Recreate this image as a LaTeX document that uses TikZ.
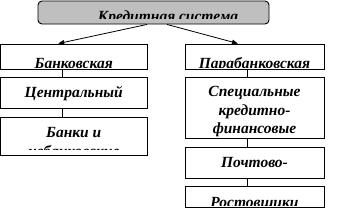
\documentclass[tikz,border=0pt]{standalone}
\usepackage{fontspec}
\setmainfont{Liberation Serif}
\newfontfamily\lblfont{Liberation Serif}[UprightFont=* Bold Italic]
\usetikzlibrary{arrows.meta, positioning}
\tikzset{
  box/.style={draw, line width=0.9pt, inner sep=0pt, fill=white},
  head/.style={box, fill=black!25, rounded corners=4pt},
  lbl/.style={font=\fontsize{15.5}{18.5}\lblfont, align=center, inner sep=0pt},
  txt/.style n args={3}{path picture={
      \clip ([yshift=#2]path picture bounding box.south west) rectangle (path picture bounding box.north east);
      \node[lbl, anchor=base] at ([yshift=#3]path picture bounding box.north) {#1};}},
  arr/.style={-{Triangle[length=6pt, width=4.5pt]}, line width=0.8pt},
  link/.style={line width=0.8pt},
}
\begin{document}
\begin{tikzpicture}[x=1pt, y=-1pt]
    \useasboundingbox (0,0) rectangle (339,209);
    % top
    \node[head, minimum width=231pt, minimum height=23pt,
      path picture={\clip ([yshift=5.5pt]path picture bounding box.south west) rectangle (path picture bounding box.north east);
        \node[lbl, anchor=base] at ([xshift=14.5pt, yshift=-20pt]path picture bounding box.north) {Кредитная система};}]
      (ks) at (153.5,12.5) {};
    % left column
    \node[box, minimum width=146.5pt, minimum height=25pt, txt={Банковская}{2pt}{-24pt}] (bank) at (73.75,56.5) {};
    \node[box, minimum width=146.5pt, minimum height=31pt, below=8pt of bank, txt={Центральный}{5pt}{-20pt}] (cb) {};
    \node[box, minimum width=146.5pt, minimum height=38pt, below=8pt of cb, txt={Банки и\\небанковские}{6pt}{-38.5pt}] (banki) {};
    % right column
    \node[box, minimum width=139pt, minimum height=25pt, txt={Парабанковская}{2pt}{-24pt}] (para) at (254.5,56.5) {};
    \node[box, minimum width=139pt, minimum height=61pt, below=8pt of para, txt={Специальные\\кредитно-\\финансовые}{2pt}{-56pt}] (spec) {};
    \node[box, minimum width=139pt, minimum height=31pt, below=8pt of spec, txt={Почтово-}{5pt}{-20pt}] (post) {};
    \node[box, minimum width=139pt, minimum height=21pt, below=7pt of post, txt={Ростовщики}{2pt}{-20.5pt}] (rost) {};
    % connectors
    \draw[arr] ([xshift=-6.5pt]ks.south) -- ([xshift=-15.5pt]bank.north);
    \draw[arr] ([xshift=13.5pt]ks.south) -- ([xshift=-16.5pt]para.north);
    \draw[link] ([xshift=-11.75pt]bank.south) -- ([xshift=-11.75pt]cb.north);
    \draw[link] ([xshift=-11.75pt]cb.south) -- ([xshift=-11.75pt]banki.north);
    \draw[link] ([xshift=-7.5pt]para.south) -- ([xshift=-7.5pt]spec.north);
    \draw[link] ([xshift=-7.5pt]spec.south) -- ([xshift=-7.5pt]post.north);
    \draw[link] ([xshift=-7.5pt]post.south) -- ([xshift=-7.5pt]rost.north);
\end{tikzpicture}
\end{document}
